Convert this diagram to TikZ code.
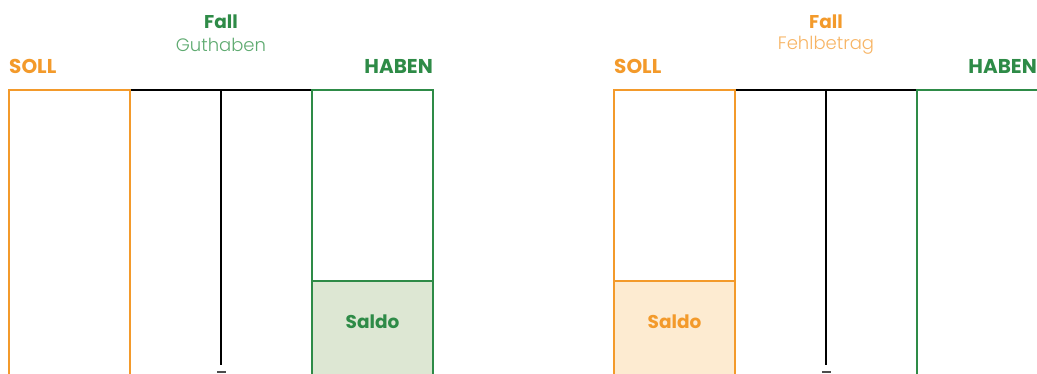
\documentclass[tikz,border=0pt]{standalone}
\usepackage{fontspec}
\setmainfont{Poppins}
\newfontfamily\lightfont{Poppins Light}
\definecolor{org}{HTML}{F39A2B}
\definecolor{grn}{HTML}{2E8B47}
\definecolor{lorg}{HTML}{F7B464}
\definecolor{lgrn}{HTML}{5EAA70}
\definecolor{forg}{HTML}{FDEBD1}
\definecolor{fgrn}{HTML}{DDE7D3}
\begin{document}
\begin{tikzpicture}[x=1pt,y=-1pt,
  hd/.style={font=\bfseries\fontsize{18.5}{18.5}\selectfont,inner sep=0pt},
  sh/.style={font=\bfseries\fontsize{20}{20}\selectfont,inner sep=0pt},
  sub/.style={font=\lightfont\fontsize{18}{18}\selectfont,inner sep=0pt},
  col/.style={line width=1.1pt},
  topline/.style={line width=1.4pt,black},
  mid/.style={line width=1.3pt,black}]
\useasboundingbox (0,0) rectangle (1037,374);
\clip (0,0) rectangle (1037,374);
% ---------- left account ----------
\node[hd,text=grn] (lfall) at (221,22) {Fall};
\node[sub,text=lgrn] (lsub) at (221,45) {Guthaben};
\node[sh,text=org,anchor=west] (lsoll) at (9,66) {SOLL};
\node[sh,text=grn,anchor=east] (lhaben) at (433,66) {HABEN};
\draw[topline] (9,90) -- (433,90);
\draw[col,org] (9,90) rectangle (130,380);
\fill[fgrn] (312,281) rectangle (433,380);
\draw[col,grn] (312,90) rectangle (433,380);
\draw[col,grn] (312,281) -- (433,281);
\node[hd,text=grn] (lsaldo) at (372.5,322) {Saldo};
\draw[mid] (221,90) -- (221,365);
\draw[line width=1.2pt,black!70] (217,372) -- (226,372);
% ---------- right account ----------
\node[hd,text=org] (rfall) at (826,22) {Fall};
\node[sub,text=lorg] (rsub) at (826,45) {Fehlbetrag};
\node[sh,text=org,anchor=west] (rsoll) at (614,66) {SOLL};
\node[sh,text=grn,anchor=east] (rhaben) at (1037,66) {HABEN};
\draw[topline] (614,90) -- (1040,90);
\fill[forg] (614,281) rectangle (735,380);
\draw[col,org] (614,90) rectangle (735,380);
\draw[col,org] (614,281) -- (735,281);
\node[hd,text=org] (rsaldo) at (674.5,322) {Saldo};
\draw[col,grn] (917,90) rectangle (1045,380);
\draw[mid] (826,90) -- (826,365);
\draw[line width=1.2pt,black!70] (822,372) -- (831,372);
\end{tikzpicture}
\end{document}
